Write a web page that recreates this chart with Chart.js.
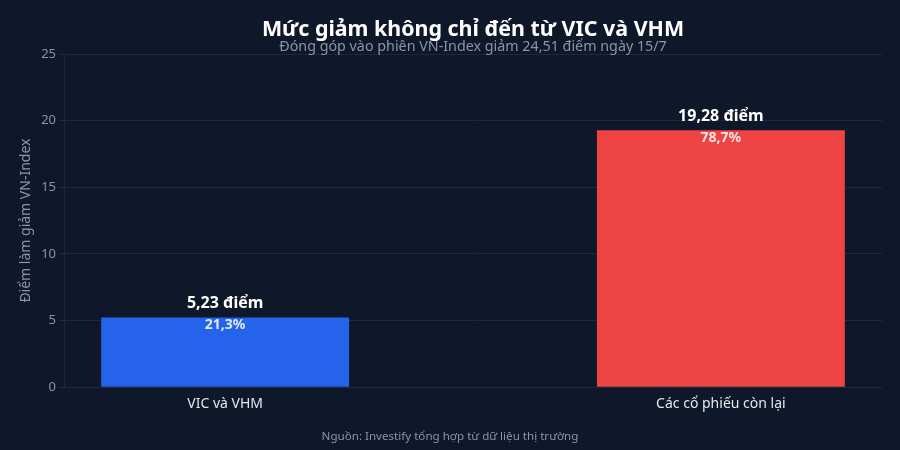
<!DOCTYPE html>
<html>
<head>
<meta charset="utf-8">
<script src="https://cdn.jsdelivr.net/npm/chart.js@4"></script>
<style>
  html, body { margin: 0; padding: 0; background: #0f172a; }
  #wrap { width: 900px; height: 450px; }
</style>
</head>
<body>
<div id="wrap"><canvas id="chartDong"></canvas></div>
<script>
var tieuDe = "Mức giảm không chỉ đến từ VIC và VHM"
var phuDe = "Đóng góp vào phiên VN-Index giảm 24,51 điểm ngày 15/7"
var nguon = "Nguồn: Investify tổng hợp từ dữ liệu thị trường"

var nhom = ["VIC và VHM", "Các cổ phiếu còn lại"]
var diem = [5.23, 19.28]
var nhanDiem = ["5,23 điểm", "19,28 điểm"]
var nhanPhanTram = ["21,3%", "78,7%"]
var mauCot = ["#2563eb", "#ef4444"]
var yTicks = [0, 5, 10, 15, 20, 25]

var FONT = "'Noto Sans', 'DejaVu Sans', sans-serif"

// ve tieu de, nhan tren cot, nguon
const pluginNhan = {
  id: 'pluginNhan',
  afterDatasetsDraw(chart) {
    const ctx = chart.ctx
    const area = chart.chartArea
    const cx = (area.left + area.right) / 2
    ctx.save()
    ctx.textAlign = 'center'
    ctx.textBaseline = 'middle'

    ctx.fillStyle = '#ffffff'
    ctx.font = 'bold 21.4px ' + FONT
    ctx.fillText(tieuDe, cx, 30)
    ctx.fillStyle = '#8b95a5'
    ctx.font = '14.3px ' + FONT
    ctx.fillText(phuDe, cx, 47)

    const meta = chart.getDatasetMeta(0)
    meta.data.forEach(function (bar, i) {
      ctx.fillStyle = '#ffffff'
      ctx.font = 'bold 16px ' + FONT
      ctx.fillText(nhanDiem[i], bar.x, bar.y - 14)
      ctx.fillStyle = 'rgba(255,255,255,0.85)'
      ctx.font = 'bold 14px ' + FONT
      ctx.fillText(nhanPhanTram[i], bar.x, bar.y + 8)
    })

    ctx.fillStyle = '#8b95a5'
    ctx.font = '11.6px ' + FONT
    ctx.fillText(nguon, chart.width / 2, 437)
    ctx.restore()
  }
}

const ctxDong = document.getElementById('chartDong')

new Chart(ctxDong, {
  type: 'bar',
  data: {
    datasets: [{
      data: diem.map(function (v, i) { return { x: i, y: v } }),
      backgroundColor: mauCot,
      borderWidth: 0,
      barPercentage: 0.5,
      categoryPercentage: 1
    }]
  },
  options: {
    responsive: true,
    maintainAspectRatio: false,
    animation: false,
    layout: { padding: { top: 54, right: 18, bottom: 30, left: 0 } },
    plugins: {
      legend: { display: false },
      tooltip: { enabled: false }
    },
    scales: {
      x: {
        type: 'linear',
        offset: false,
        min: -0.325,
        max: 1.325,
        afterBuildTicks: function (scale) {
          scale.ticks = nhom.map(function (n, i) { return { value: i } })
        },
        ticks: {
          color: '#e2e8f0',
          font: { family: FONT, size: 14 },
          padding: 8,
          maxRotation: 0,
          callback: function (v) { return nhom[v] }
        },
        grid: { display: false, drawTicks: false },
        border: { display: false }
      },
      y: {
        min: 0,
        max: 25,
        afterBuildTicks: function (scale) {
          scale.ticks = yTicks.map(function (v) { return { value: v } })
        },
        afterFit: function (scale) { scale.width = 64 },
        ticks: {
          color: '#8b95a5',
          font: { family: FONT, size: 13 },
          padding: 3
        },
        grid: { color: '#1e293b', tickLength: 5 },
        border: { color: '#1e293b' },
        title: {
          display: true,
          text: 'Điểm làm giảm VN-Index',
          color: '#8b95a5',
          font: { family: FONT, size: 14 },
          padding: { top: 18, bottom: 0 }
        }
      }
    }
  },
  plugins: [pluginNhan]
})
</script>
</body>
</html>
